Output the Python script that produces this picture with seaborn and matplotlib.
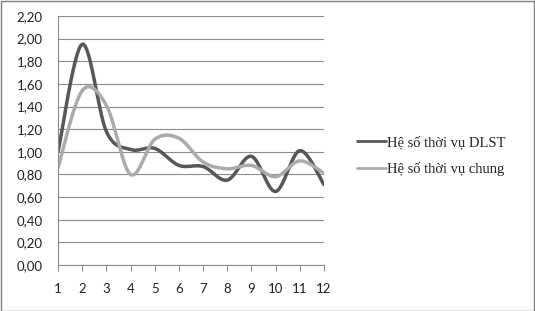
import numpy as np
import pandas as pd
import matplotlib
matplotlib.use("Agg")
import matplotlib.pyplot as plt
import seaborn as sns

months = [1, 2, 3, 4, 5, 6, 7, 8, 9, 10, 11, 12]
he_so_dlst = [1.00, 1.95, 1.18, 1.02, 1.03, 0.88, 0.87, 0.75, 0.96, 0.65, 1.01, 0.71]
he_so_chung = [0.86, 1.54, 1.41, 0.80, 1.11, 1.12, 0.91, 0.85, 0.88, 0.78, 0.92, 0.81]
series_names = ["Hệ số thời vụ DLST", "Hệ số thời vụ chung"]
y_ticks = [0.0, 0.2, 0.4, 0.6, 0.8, 1.0, 1.2, 1.4, 1.6, 1.8, 2.0, 2.2]


def excel_smooth(xs, ys, n=30):
    xs = np.asarray(xs, float)
    ys = np.asarray(ys, float)
    px = np.concatenate([[xs[0]], xs, [xs[-1]]])
    py = np.concatenate([[ys[0]], ys, [ys[-1]]])
    outx, outy = [], []
    t = np.linspace(0, 1, n)
    for i in range(1, len(px) - 2):
        p0 = np.array([px[i], py[i]])
        p3 = np.array([px[i + 1], py[i + 1]])
        c1 = p0 + (np.array([px[i + 1], py[i + 1]]) - np.array([px[i - 1], py[i - 1]])) / 6
        c2 = p3 - (np.array([px[i + 2], py[i + 2]]) - np.array([px[i], py[i]])) / 6
        b = (np.outer((1 - t) ** 3, p0) + np.outer(3 * (1 - t) ** 2 * t, c1)
             + np.outer(3 * (1 - t) * t ** 2, c2) + np.outer(t ** 3, p3))
        if i > 1:
            b = b[1:]
        outx.extend(b[:, 0])
        outy.extend(b[:, 1])
    return np.array(outx), np.array(outy)


frames = []
for name, vals in zip(series_names, [he_so_dlst, he_so_chung]):
    sx, sy = excel_smooth(months, vals)
    frames.append(pd.DataFrame({"x": sx, "y": sy, "series": name}))
df = pd.concat(frames, ignore_index=True)

sns.set_theme(style="white")
plt.rcParams["font.family"] = ["Lato", "DejaVu Sans"]

fig = plt.figure(figsize=(5.35, 3.11), dpi=100)
ax = fig.add_axes([58 / 535, 1 - 265 / 311, (324 - 58) / 535, (265 - 16) / 311])

palette = {series_names[0]: "#575757", series_names[1]: "#ababab"}
sns.lineplot(data=df, x="x", y="y", hue="series", palette=palette, sort=False,
             estimator=None, linewidth=2.5, ax=ax, legend=True)

ax.set_xlim(1, 12)
ax.set_ylim(0, 2.2)
ax.set_yticks(y_ticks)
ax.set_yticklabels([f"{v:.2f}".replace(".", ",") for v in y_ticks])
ax.set_xticks(months)
ax.set_xticklabels([str(m) for m in months])
ax.set_xlabel("")
ax.set_ylabel("")
ax.grid(axis="y", color="#8c8c8c", linewidth=0.8)
ax.set_axisbelow(True)
for s in ["top", "right"]:
    ax.spines[s].set_visible(False)
ax.spines["left"].set_color("#8c8c8c")
ax.spines["bottom"].set_color("#8c8c8c")
ax.spines["left"].set_linewidth(0.8)
ax.spines["bottom"].set_linewidth(0.8)
ax.tick_params(axis="x", which="both", bottom=True, length=4, width=0.8, color="#8c8c8c",
               labelsize=9.5, pad=9, labelcolor="#222222")
ax.tick_params(axis="y", left=False, labelsize=9.5, pad=5, labelcolor="#222222")

handles, labels = ax.get_legend_handles_labels()
for h in handles:
    h.set_linewidth(2.0)
leg = ax.legend(handles, labels, loc="center left", bbox_to_anchor=(344 / 535, 1 - 156 / 311),
                bbox_transform=fig.transFigure, frameon=False, handlelength=2.0, handletextpad=0.05,
                labelspacing=0.9, prop={"family": "Liberation Serif", "size": 10.5})

fig.patches.append(plt.Rectangle((0.5 / 535, 0.5 / 311), 1 - 1.5 / 535, 1 - 1.5 / 311,
                                 transform=fig.transFigure, fill=False, edgecolor="#7f7f7f",
                                 linewidth=1.0))
fig.savefig("out.png", dpi=100)
